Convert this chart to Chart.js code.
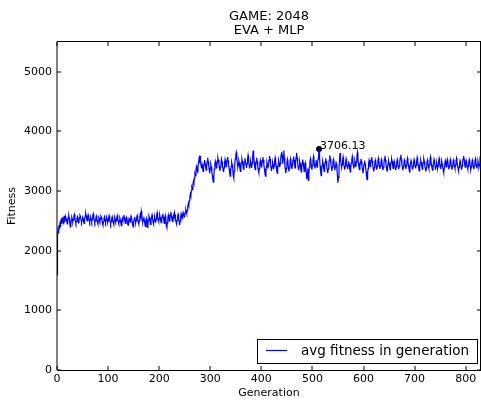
<!DOCTYPE html>
<html>
<head>
<meta charset="utf-8">
<script src="https://cdn.jsdelivr.net/npm/chart.js@4.4.1/dist/chart.umd.min.js"></script>
<style>
  html, body { margin: 0; padding: 0; background: #fff; }
  #wrap { width: 481px; height: 400px; }
</style>
</head>
<body>
<div id="wrap"><canvas id="chart" width="481" height="400"></canvas></div>
<script>
// text
const titleLines = ['GAME: 2048', 'EVA + MLP'];
const seriesLabel = 'avg fitness in generation';
const xTitle = 'Generation';
const yTitle = 'Fitness';

// axes
const xMax = 830;
const yMax = 5500;
const xTickValues = [0, 100, 200, 300, 400, 500, 600, 700, 800];
const yTickValues = [0, 1000, 2000, 3000, 4000, 5000];

// avg fitness per generation
// gen 0-14
const fitnessStart = [1600, 2260, 2340, 2290, 2430, 2360, 2490, 2400, 2530, 2450, 2560, 2470, 2545, 2440, 2585];

// gen 15-249
const fitnessFlat = [
  2480, 2530, 2570, 2540, 2490, 2450, 2500, 2560, 2590, 2550,
  2470, 2400, 2440, 2510, 2560, 2530, 2480, 2520, 2580, 2610,
  2560, 2500, 2460, 2490, 2540, 2570, 2530, 2470, 2500, 2550,
  2590, 2570, 2520, 2480, 2510, 2560, 2540, 2490, 2460, 2520,
  2580, 2630, 2590, 2530, 2500, 2540, 2600, 2570, 2510, 2480,
  2520, 2560, 2530, 2490, 2530, 2590, 2620, 2560, 2500, 2470,
  2510, 2550, 2580, 2530, 2480, 2450, 2500, 2560, 2540, 2500,
  2530, 2580, 2560, 2500, 2460, 2430, 2490, 2540, 2570, 2520,
  2480, 2520, 2560, 2530, 2470, 2500, 2550, 2590, 2550, 2490,
  2450, 2490, 2540, 2570, 2520, 2470, 2440, 2500, 2560, 2530,
  2480, 2510, 2560, 2590, 2540, 2480, 2450, 2500, 2550, 2520,
  2460, 2420, 2480, 2540, 2510, 2560, 2600, 2550, 2490, 2460,
  2510, 2560, 2530, 2470, 2430, 2490, 2540, 2520, 2480, 2530,
  2580, 2550, 2490, 2440, 2400, 2460, 2530, 2570, 2520, 2470,
  2510, 2560, 2590, 2540, 2480, 2450, 2500, 2560, 2610, 2570,
  2660, 2600, 2530, 2480, 2520, 2570, 2510, 2450, 2410, 2480,
  2540, 2500, 2390, 2450, 2520, 2580, 2550, 2490, 2440, 2500,
  2560, 2600, 2540, 2480, 2450, 2510, 2570, 2530, 2470, 2520,
  2590, 2640, 2580, 2520, 2490, 2540, 2600, 2560, 2500, 2470,
  2520, 2580, 2620, 2570, 2510, 2460, 2520, 2590, 2550, 2420,
  2390, 2470, 2550, 2600, 2560, 2500, 2540, 2610, 2650, 2580,
  2520, 2490, 2540, 2590, 2560, 2640, 2600, 2530, 2480, 2450,
  2510, 2570, 2610, 2560, 2500, 2430, 2490, 2560, 2620, 2580,
  2540, 2590, 2640, 2610, 2570
];

// gen 250-284
const fitnessClimb = [
  2600, 2640, 2690, 2650, 2620, 2680, 2740, 2790, 2760, 2840,
  2900, 2950, 2920, 3010, 3060, 3030, 3110, 3160, 3130, 3220,
  3290, 3260, 3350, 3410, 3370, 3320, 3410, 3480, 3540, 3470,
  3590, 3520, 3430, 3380, 3440
];

// gen 285-829
const fitnessPlateau = [
  3390, 3330, 3400, 3470, 3520, 3460, 3400, 3350, 3420, 3500,
  3560, 3490, 3420, 3360, 3300, 3380, 3450, 3410, 3330, 3260,
  3200, 3150, 3260, 3370, 3440, 3500, 3460, 3390, 3430, 3510,
  3560, 3520, 3450, 3390, 3340, 3410, 3480, 3540, 3490, 3420,
  3370, 3320, 3390, 3470, 3530, 3480, 3410, 3450, 3520, 3570,
  3510, 3440, 3380, 3310, 3250, 3330, 3420, 3480, 3440, 3370,
  3260, 3220, 3340, 3450, 3540, 3610, 3650, 3560, 3470, 3400,
  3440, 3510, 3470, 3390, 3330, 3400, 3480, 3540, 3500, 3430,
  3370, 3420, 3490, 3550, 3500, 3440, 3390, 3460, 3540, 3600,
  3530, 3450, 3380, 3430, 3500, 3460, 3390, 3470, 3580, 3680,
  3590, 3490, 3410, 3360, 3430, 3500, 3560, 3490, 3420, 3350,
  3310, 3380, 3460, 3520, 3480, 3410, 3440, 3510, 3570, 3520,
  3440, 3370, 3300, 3250, 3330, 3420, 3490, 3450, 3380, 3430,
  3520, 3590, 3540, 3460, 3390, 3340, 3410, 3480, 3440, 3370,
  3420, 3500, 3560, 3500, 3420, 3350, 3300, 3370, 3450, 3510,
  3470, 3400, 3460, 3550, 3620, 3660, 3560, 3460, 3600, 3680,
  3560, 3440, 3360, 3300, 3380, 3460, 3530, 3480, 3400, 3330,
  3390, 3470, 3540, 3490, 3420, 3370, 3440, 3520, 3580, 3520,
  3440, 3390, 3480, 3570, 3640, 3560, 3470, 3410, 3350, 3420,
  3500, 3460, 3380, 3320, 3400, 3480, 3530, 3470, 3390, 3330,
  3400, 3470, 3420, 3310, 3200, 3280, 3380, 3180, 3290, 3400,
  3480, 3540, 3490, 3410, 3360, 3430, 3510, 3580, 3520, 3440,
  3380, 3440, 3520, 3470, 3400, 3460, 3540, 3590, 3706.13, 3560,
  3420, 3330, 3260, 3340, 3430, 3500, 3460, 3390, 3330, 3410,
  3490, 3550, 3500, 3420, 3360, 3300, 3370, 3450, 3520, 3600,
  3540, 3460, 3400, 3340, 3400, 3480, 3530, 3480, 3410, 3350,
  3420, 3500, 3450, 3370, 3250, 3140, 3230, 3380, 3520, 3640,
  3550, 3460, 3400, 3440, 3510, 3570, 3500, 3420, 3360, 3410,
  3480, 3540, 3490, 3420, 3370, 3430, 3500, 3450, 3380, 3320,
  3390, 3470, 3530, 3580, 3510, 3430, 3380, 3440, 3510, 3470,
  3400, 3490, 3580, 3650, 3560, 3470, 3410, 3360, 3420, 3490,
  3540, 3490, 3420, 3360, 3300, 3370, 3450, 3510, 3460, 3400,
  3330, 3250, 3190, 3280, 3380, 3460, 3520, 3470, 3410, 3450,
  3520, 3570, 3510, 3440, 3380, 3330, 3390, 3460, 3520, 3480,
  3410, 3360, 3420, 3490, 3550, 3500, 3430, 3370, 3420, 3480,
  3530, 3480, 3410, 3350, 3400, 3470, 3540, 3590, 3520, 3450,
  3390, 3340, 3400, 3460, 3510, 3470, 3410, 3360, 3420, 3490,
  3540, 3500, 3430, 3380, 3440, 3500, 3460, 3400, 3350, 3410,
  3480, 3530, 3490, 3420, 3370, 3420, 3490, 3560, 3610, 3540,
  3460, 3400, 3350, 3410, 3470, 3520, 3480, 3420, 3370, 3430,
  3500, 3550, 3490, 3430, 3380, 3320, 3390, 3460, 3510, 3470,
  3410, 3360, 3410, 3480, 3530, 3490, 3430, 3380, 3430, 3500,
  3560, 3510, 3440, 3390, 3340, 3400, 3470, 3520, 3480, 3420,
  3370, 3420, 3480, 3540, 3500, 3430, 3380, 3330, 3390, 3460,
  3520, 3480, 3420, 3380, 3440, 3510, 3570, 3510, 3440, 3390,
  3350, 3410, 3470, 3530, 3490, 3420, 3360, 3420, 3480, 3440,
  3380, 3420, 3490, 3550, 3500, 3430, 3370, 3430, 3500, 3460,
  3400, 3350, 3310, 3390, 3460, 3510, 3470, 3410, 3460, 3530,
  3490, 3420, 3370, 3420, 3480, 3530, 3480, 3410, 3360, 3410,
  3470, 3520, 3480, 3420, 3380, 3430, 3500, 3550, 3490, 3430,
  3380, 3340, 3400, 3460, 3510, 3470, 3410, 3360, 3420, 3490,
  3540, 3590, 3530, 3460, 3400, 3440, 3510, 3470, 3410, 3370,
  3420, 3480, 3530, 3490, 3420, 3360, 3400, 3470, 3520, 3480,
  3420, 3370, 3420, 3490, 3540, 3490, 3430, 3380, 3440, 3500,
  3460, 3400, 3440, 3510, 3470
];

const fitness = [...fitnessStart, ...fitnessFlat, ...fitnessClimb, ...fitnessPlateau];
const points = fitness.map((v, i) => ({x: i, y: v}));

const peakValue = Math.max(...fitness);
const peakIndex = fitness.indexOf(peakValue);

const FONT = "'DejaVu Sans', sans-serif";

// matplotlib-style box with inward ticks on all four sides
const framePlugin = {
  id: 'frame',
  afterDatasetsDraw(chart) {
    const {ctx, chartArea: a, scales: {x, y}} = chart;
    ctx.save();
    ctx.strokeStyle = '#000';
    ctx.lineWidth = 1;
    ctx.beginPath();
    x.ticks.forEach(t => {
      const px = Math.round(x.getPixelForValue(t.value));
      ctx.moveTo(px, a.bottom); ctx.lineTo(px, a.bottom - 4);
      ctx.moveTo(px, a.top); ctx.lineTo(px, a.top + 4);
    });
    y.ticks.forEach(t => {
      const py = Math.round(y.getPixelForValue(t.value));
      ctx.moveTo(a.left, py); ctx.lineTo(a.left + 4, py);
      ctx.moveTo(a.right, py); ctx.lineTo(a.right - 4, py);
    });
    ctx.stroke();
    ctx.beginPath();
    ctx.moveTo(a.left, a.top - 0.5); ctx.lineTo(a.left, a.bottom);
    ctx.moveTo(a.left, a.top - 0.5); ctx.lineTo(a.right, a.top - 0.5);
    ctx.moveTo(a.left, a.bottom + 0.5); ctx.lineTo(a.right, a.bottom + 0.5);
    ctx.moveTo(a.right - 0.5, a.top); ctx.lineTo(a.right - 0.5, a.bottom);
    ctx.stroke();

    // peak annotation
    const el = chart.getDatasetMeta(1).data[0];
    ctx.fillStyle = '#000';
    ctx.font = '11px ' + FONT;
    ctx.textAlign = 'left';
    ctx.textBaseline = 'alphabetic';
    ctx.fillText(peakValue.toFixed(2), el.x + 1, el.y);

    // legend, lower right inside the axes
    ctx.font = '13.5px ' + FONT;
    const tw = ctx.measureText(seriesLabel).width;
    const bw = Math.round(9 + 21 + 14 + tw + 8);
    const bh = 24;
    const bx = Math.round(a.right - 4 - bw);
    const by = Math.round(a.bottom - 7 - bh);
    ctx.fillStyle = '#fff';
    ctx.fillRect(bx, by, bw, bh);
    ctx.strokeStyle = '#000';
    ctx.strokeRect(bx + 0.5, by + 0.5, bw, bh);
    const ly = by + 11.5;
    ctx.strokeStyle = '#0000ff';
    ctx.lineWidth = 1.2;
    ctx.beginPath();
    ctx.moveTo(bx + 9, ly); ctx.lineTo(bx + 30, ly);
    ctx.stroke();
    ctx.fillStyle = '#000';
    ctx.textBaseline = 'middle';
    ctx.fillText(seriesLabel, bx + 44, ly + 0.5);
    ctx.restore();
  }
};

new Chart(document.getElementById('chart'), {
  type: 'line',
  data: {
    datasets: [{
      label: seriesLabel,
      data: points,
      borderColor: '#0000ff',
      borderWidth: 1.2,
      pointRadius: 0,
      tension: 0,
      fill: false
    }, {
      label: 'peak',
      data: [{x: peakIndex, y: peakValue}],
      showLine: false,
      pointRadius: 3,
      pointBackgroundColor: '#000',
      pointBorderColor: '#000',
      borderWidth: 0
    }]
  },
  plugins: [framePlugin],
  options: {
    responsive: false,
    animation: false,
    events: [],
    layout: { padding: 0, autoPadding: false },
    plugins: {
      legend: { display: false },
      tooltip: { enabled: false },
      title: {
        display: true,
        text: titleLines,
        fullSize: false,
        color: '#000',
        font: { family: FONT, size: 13, weight: 'normal', lineHeight: 14 / 13 },
        padding: { top: 10, bottom: 4 }
      }
    },
    scales: {
      x: {
        type: 'linear',
        min: 0,
        max: xMax,
        grid: { display: false, drawTicks: false },
        border: { display: false },
        afterBuildTicks(s) { s.ticks = xTickValues.map(v => ({value: v})); },
        ticks: {
          padding: 3,
          maxRotation: 0,
          autoSkip: false,
          color: '#000',
          font: { family: FONT, size: 11 },
          callback: v => String(v)
        },
        title: {
          display: true,
          text: xTitle,
          color: '#000',
          font: { family: FONT, size: 11 },
          padding: { top: 0, bottom: 0 }
        },
        afterFit(s) { s.height = 30; s.paddingLeft = 0; s.paddingRight = 0; }
      },
      y: {
        min: 0,
        max: yMax,
        grid: { display: false, drawTicks: false },
        border: { display: false },
        afterBuildTicks(s) { s.ticks = yTickValues.map(v => ({value: v})); },
        ticks: {
          padding: 5,
          autoSkip: false,
          color: '#000',
          font: { family: FONT, size: 11 },
          callback: v => String(v)
        },
        title: {
          display: true,
          text: yTitle,
          color: '#000',
          font: { family: FONT, size: 11 },
          padding: { top: 6, bottom: 0 }
        },
        afterFit(s) { s.width = 57; s.paddingTop = 0; s.paddingBottom = 0; }
      }
    }
  }
});
</script>
</body>
</html>
